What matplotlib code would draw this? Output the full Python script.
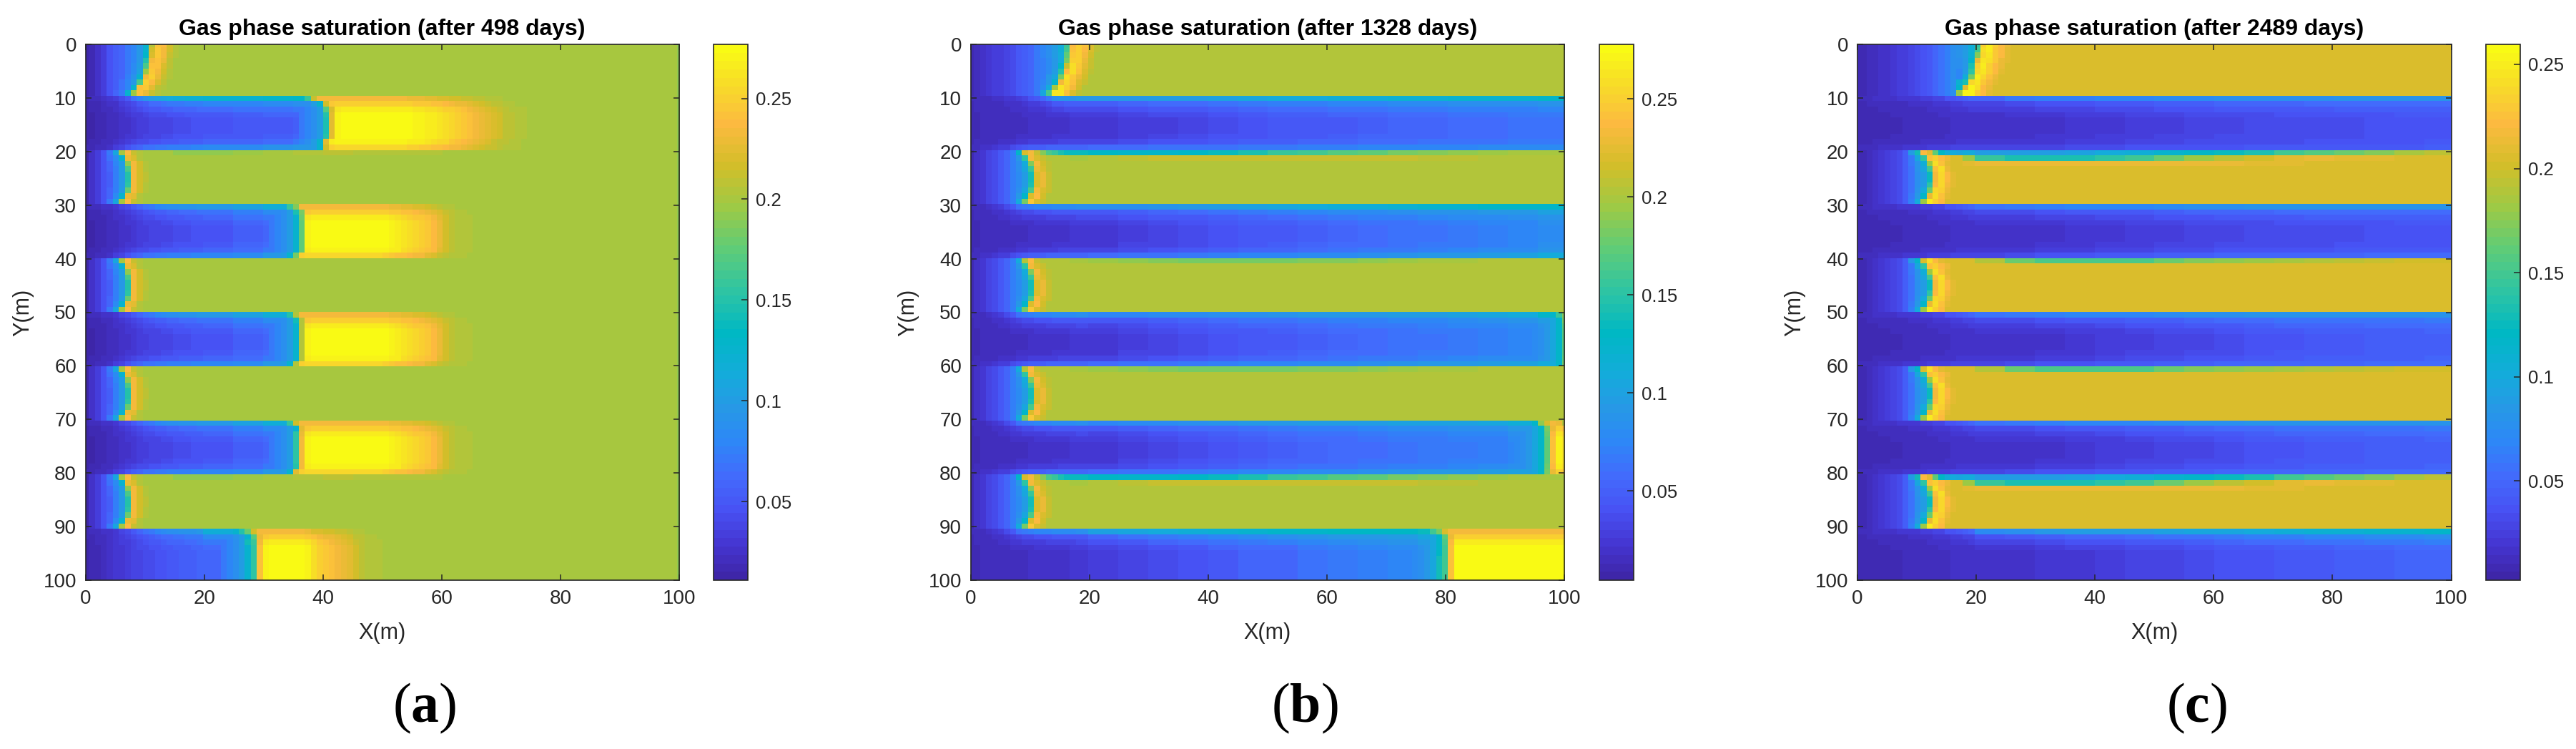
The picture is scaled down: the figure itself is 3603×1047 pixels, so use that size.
import numpy as np
import matplotlib
matplotlib.use("Agg")
import matplotlib.pyplot as plt
from matplotlib.colors import LinearSegmentedColormap

plt.rcParams['font.family'] = ['Liberation Sans', 'DejaVu Sans']
plt.rcParams['mathtext.fontset'] = 'custom'
plt.rcParams['mathtext.rm'] = 'Liberation Serif'
plt.rcParams['mathtext.bf'] = 'Liberation Serif:bold'

titles = ["Gas phase saturation (after 498 days)",
          "Gas phase saturation (after 1328 days)",
          "Gas phase saturation (after 2489 days)"]
panel_names = ["a", "b", "c"]
x_ticks = [0, 20, 40, 60, 80, 100]
y_ticks = [0, 10, 20, 30, 40, 50, 60, 70, 80, 90, 100]
cbar_ticks = [0.05, 0.1, 0.15, 0.2, 0.25]
cbar_labels = ["0.05", "0.1", "0.15", "0.2", "0.25"]
clims = [(0.011, 0.2768), (0.0044, 0.2778), (0.0024, 0.2596)]

# parula
cmap_pos = [0, .06, .127, .19, .254, .32, .38, .46, .54, .62, .70, .78, .857, .93, 1]
cmap_rgb = [(.2422, .1504, .6603), (.27, .21, .82), (.281, .3228, .9579), (.26, .42, .99),
            (.1786, .5289, .9682), (.15, .60, .90), (.08, .67, .86), (0, .72, .77),
            (.18, .77, .64), (.37, .80, .47), (.62, .79, .27), (.83, .745, .16),
            (.99, .73, .25), (.97, .86, .16), (.977, .984, .08)]

# how much the first/last rows of a 10 row band lean towards its edge profile
w_top = [1, .4, .2, .07, 0, 0, 0, 0, 0, 0]
w_bot = [0, 0, 0, 0, 0, 0, 0, .07, .3, 1]
tail_scale = [.45, .68, .88, 1, 1, 1, 1, 1, .95, .7]
tail_scale_last = [.45, .68, .88, 1, 1, 1, 1, 1, 1, 1]

# ---- panel a ----
a_bg = 0.2
a_right_col = 0.19
a_first_ramp = [.012, .018, .026, .035, .045]
a_first_win = [
    [.055, .06, .07, .08, .095, .125, .205, .24, .238, .218, .205],
    [.055, .06, .07, .08, .095, .125, .215, .245, .235, .215, .205],
    [.055, .06, .07, .08, .095, .13, .222, .245, .232, .213, .204],
    [.055, .06, .07, .08, .098, .15, .235, .243, .228, .21, .202],
    [.055, .06, .07, .085, .10, .165, .24, .24, .222, .208, .2],
    [.055, .06, .07, .085, .105, .195, .245, .235, .218, .206, .2],
    [.055, .06, .075, .09, .125, .235, .25, .23, .213, .203, .2],
    [.055, .065, .08, .095, .165, .25, .238, .22, .207, .2, .2],
    [.055, .065, .08, .125, .24, .245, .225, .21, .203, .2, .2],
    [.06, .07, .125, .195, .24, .23, .212, .204, .2, .2, .2]]
a_gas_ramp = [.012, .025, .035, .045]
a_gas_win = [
    [.07, .11, .2, .238, .213, .203, .2],
    [.065, .085, .125, .23, .222, .205, .2],
    [.06, .08, .1, .19, .235, .215, .203],
    [.06, .075, .1, .165, .235, .218, .205],
    [.055, .075, .095, .15, .232, .218, .207],
    [.055, .075, .095, .15, .232, .218, .207],
    [.055, .075, .095, .155, .232, .218, .206],
    [.06, .075, .1, .18, .235, .215, .205],
    [.06, .085, .125, .23, .225, .205, .2],
    [.07, .11, .2, .238, .213, .203, .2]]
a_gas_top = [.2, .2, .2, .192, .192, .195, .202, .205, .207, .206, .204, .203, .2, .2, .2, .2, .2, .2, .2, .2]

# first 20 columns of the blue bands, one value a column
a_left_core = [.012, .014, .016, .018, .02, .022, .025, .027, .03, .032, .034, .036, .037, .039, .04, .042, .043, .044, .045, .046]
a_left_core_9 = [.014, .016, .019, .022, .025, .028, .031, .034, .037, .04, .042, .044, .046, .048, .05, .052, .053, .054, .056, .058]
a_left_top_1 = [.018, .02, .022, .025, .03, .035, .042, .052, .065, .08, .09, .1, .105, .11, .113, .116, .118, .12, .12, .122]
a_left_top_2 = [.018, .02, .022, .024, .027, .031, .036, .042, .05, .058, .066, .072, .078, .083, .086, .088, .09, .092, .094, .095]
a_left_bot = [.016, .018, .02, .023, .027, .032, .04, .048, .055, .06, .065, .068, .07, .072, .074, .075, .076, .077, .078, .079]

a_core_1 = [.012, .018, .028, .036, .047, .05, .052, .055, .058]
a_top_1 = [.02, .04, .1, .12, .125, .125, .13, .135, .14]
a_bot_1 = [.02, .04, .075, .08, .083, .085, .09, .095, .1]
a_core_2 = [.012, .018, .03, .04, .048, .055, .06, .065]
a_top_2 = [.02, .04, .07, .085, .095, .105, .115, .125]
a_bot_2 = [.02, .035, .065, .075, .08, .085, .095, .1]
a_core_3 = [.014, .025, .04, .05, .06, .07]
a_top_3 = [.02, .04, .08, .1, .115, .125]
a_near = [.1, .088, .08, .07]

a_front_1 = [37, 39, 40, 40, 40, 40, 40, 40, 39, 39]
a_fval_1 = [.16, .125, .17, .15, .145, .145, .145, .15, .125, .125]
a_ahead_1 = [.225, .27, .275, .275, .275, .275, .275, .275, .275, .275, .275, .275, .275, .275,
             .272, .27, .268, .265, .262, .258, .255, .25, .245, .24, .235, .23, .225, .22,
             .215, .21, .207, .205, .203, .202]
a_front_2 = [34, 35, 35, 35, 35, 35, 35, 35, 35, 34]
a_fval_3 = [.16, .145, .125, .125, .125, .125, .125, .125, .125, .125]
a_fval_5 = [.15, .14, .125, .125, .125, .125, .125, .125, .125, .125]
a_fval_7 = [.16, .125, .155, .155, .155, .155, .155, .155, .15, .125]
a_tail_2 = [.27, .275, .275, .275, .275, .275, .275, .275, .275, .275, .275, .275, .275, .275, .27, .268,
            .262, .258, .254, .25, .245, .238, .228, .218, .21, .206, .204, .203, .202, .201]
a_ahead_3 = [.175] + a_tail_2
a_ahead_5 = [.205] + a_tail_2
a_ahead_7 = [.235] + a_tail_2
a_front_9 = [26, 27, 27, 27, 27, 27, 27, 27, 27, 27]
a_fval_9 = [.15, .125, .14, .125, .125, .125, .125, .125, .125, .125]
a_ahead_9 = [.155, .24, .27, .275, .275, .275, .275, .275, .275, .27, .26, .25, .245, .24,
             .235, .23, .225, .215, .21, .206, .204, .203, .202, .201]

# ---- panel b ----
b_bg = 0.201
b_first_ramp = [.012, .015, .018, .022, .026, .03, .034, .038, .043, .048, .055, .065]
b_first_win = [
    [.075, .085, .095, .11, .155, .238, .252, .24, .22, .207],
    [.075, .085, .095, .115, .16, .24, .25, .238, .22, .207],
    [.075, .085, .095, .11, .175, .245, .252, .232, .215, .205],
    [.07, .08, .09, .11, .182, .25, .25, .23, .213, .205],
    [.07, .08, .09, .128, .212, .258, .245, .225, .21, .203],
    [.07, .08, .095, .148, .238, .258, .24, .22, .208, .202],
    [.07, .09, .105, .18, .258, .245, .23, .215, .205, .201],
    [.075, .09, .128, .235, .256, .24, .22, .21, .203, .201],
    [.08, .11, .2, .262, .25, .232, .214, .205, .201, .201],
    [.105, .165, .262, .262, .24, .218, .206, .201, .201, .201]]
b_gas_ramp = [.012, .02, .025, .032, .038, .045, .055, .07]
b_gas_top_a = [.125, .222, .232, .21, .185, .165, .155, .145, .135]
b_gas_top_b = [.11, .205, .238, .212, .205, .203, .202, .201, .201]
b_gas_win = [
    [.09, .15, .235, .22, .21, .205, .203, .201, .201],
    [.085, .11, .185, .235, .215, .206, .203, .201, .201],
    [.085, .105, .155, .23, .22, .208, .204, .201, .201],
    [.08, .095, .14, .222, .228, .213, .205, .202, .201],
    [.08, .095, .14, .222, .228, .213, .205, .202, .201],
    [.08, .095, .145, .222, .228, .213, .205, .202, .201],
    [.085, .105, .165, .232, .222, .21, .204, .201, .201],
    [.09, .128, .22, .238, .215, .205, .201, .201, .201],
    [.11, .18, .245, .222, .21, .203, .201, .201, .201]]
b_row0_a = [.2, .2, .2, .135, .13, .128, .128, .13, .135, .145, .155, .162, .168, .174, .18, .186, .19, .195, .199, .2]
b_row1_a = [.2, .2, .2, .2, .205, .208, .21, .21, .212, .213, .213, .213, .212, .21, .21, .208, .206, .204, .203, .201]
b_row0_b = [.2, .2, .2, .2, .195, .19, .185, .182, .182, .183, .183, .185, .188, .19, .195, .198, .2, .201, .201, .201]

b_left_core = [.012, .0125, .013, .0135, .014, .0145, .015, .0155, .016, .017, .0175, .018, .0185, .019, .02, .0205, .021, .022, .0225, .023]
b_left_top_1 = [.014, .015, .016, .017, .018, .02, .022, .025, .029, .034, .04, .045, .052, .065, .085, .087, .088, .089, .09, .09]
b_left_top_3 = [.014, .015, .017, .02, .024, .03, .037, .046, .06, .065, .07, .073, .075, .077, .078, .079, .08, .081, .082, .082]
b_left_bot = [.014, .016, .018, .02, .023, .026, .03, .035, .04, .044, .048, .05, .05, .052, .052, .053, .054, .054, .055, .055]

b_core_1 = [.012, .014, .016, .018, .022, .026, .03, .034, .037, .04, .043, .045, .047, .05, .052, .054, .056, .058, .06, .063]
b_core_3 = [.012, .014, .016, .019, .023, .028, .032, .036, .04, .044, .047, .05, .054, .057, .06, .063, .066, .07, .073, .08]
b_core_7 = [.012, .014, .016, .019, .023, .028, .033, .038, .042, .046, .05, .053, .056, .059, .062, .065, .068, .07, .075, .08]
b_core_9 = [.012, .014, .017, .021, .026, .032, .037, .042, .047, .052, .055, .06, .065, .07, .075, .085]
b_top_1 = [.014, .018, .04, .085, .09, .09, .095, .098, .1, .103, .107, .11, .113, .115, .117, .118, .12, .12, .122, .125]
b_top_3 = [.014, .025, .07, .078, .082, .085, .088, .09, .095, .1, .105, .11, .113, .115, .117, .12, .122, .125, .125, .127]
b_top_5 = [.014, .03, .065, .07, .073, .075, .078, .08, .082, .085, .088, .09, .092, .094, .096, .098, .1, .105, .11, .125]
b_top_7 = [.014, .03, .065, .072, .075, .078, .08, .083, .086, .09, .092, .095, .097, .098, .1, .1, .102, .105, .115, .13]
b_top_9 = [.016, .04, .07, .09, .1, .105, .11, .115, .118, .122, .125, .128, .13, .13, .13, .135]
b_bot_1 = [.014, .03, .05, .053, .056, .058, .06, .062, .064, .066, .068, .07, .072, .074, .075, .076, .077, .078, .079, .08]
b_bot_3 = [.014, .03, .05, .053, .056, .06, .063, .066, .07, .073, .075, .078, .08, .083, .086, .09, .093, .097, .1, .107]
b_near = [.105, .092, .085, .08]

b_front_5 = [98, 98, 98, 98, 98, 98, 98, 98, 98, 98]
b_fval_5 = [.155, .125, .125, .125, .125, .125, .125, .125, .125, .125]
b_ahead_5 = [.17]
b_front_7 = [94, 95, 95, 95, 95, 95, 95, 95, 95, 95]
b_fval_7 = [.125, .125, .125, .125, .125, .125, .125, .125, .125, .125]
b_ahead_7 = [.175, .24, .27, .262]
b_front_9 = [77, 78, 78, 78, 78, 78, 78, 78, 78, 78]
b_fval_9 = [.16, .125, .125, .125, .13, .14, .14, .14, .14, .14]
b_ahead_9 = [.16, .24, .275, .275, .275, .275, .275, .275, .275, .275, .275, .275, .275, .275, .275, .275, .275, .275, .275, .275, .275, .275]

# ---- panel c ----
c_bg = 0.206
c_first_ramp = [.008, .01, .012, .014, .016, .018, .02, .023, .026, .03, .034, .038, .042, .048, .055, .063, .075]
c_first_win = [
    [.08, .09, .105, .14, .235, .25, .235, .222, .213, .207],
    [.08, .09, .105, .15, .24, .248, .23, .222, .21, .206],
    [.08, .09, .11, .175, .238, .245, .23, .22, .21, .206],
    [.075, .085, .118, .215, .245, .24, .228, .215, .208, .206],
    [.075, .085, .135, .232, .248, .235, .222, .212, .206, .206],
    [.07, .09, .14, .238, .245, .232, .22, .21, .206, .206],
    [.07, .105, .17, .25, .238, .225, .213, .207, .206, .206],
    [.11, .135, .238, .245, .228, .217, .21, .206, .206, .206],
    [.118, .21, .255, .24, .222, .212, .206, .206, .206, .206],
    [.18, .255, .255, .235, .222, .21, .206, .206, .206, .206]]
c_gas_ramp = [.008, .01, .013, .016, .02, .024, .028, .034, .045]
c_gas_top_a = [.09, .13, .222, .21, .16, .12, .105, .1, .095]
c_gas_top_b = [.085, .118, .205, .24, .222, .21, .206, .206, .205]
c_gas_win = [
    [.06, .095, .14, .225, .235, .222, .212, .206, .206],
    [.06, .08, .105, .18, .24, .225, .21, .206, .206],
    [.055, .08, .095, .15, .225, .24, .215, .207, .206],
    [.055, .075, .09, .125, .218, .238, .222, .21, .207],
    [.055, .075, .09, .125, .218, .238, .222, .21, .207],
    [.055, .075, .09, .14, .222, .238, .218, .208, .206],
    [.055, .08, .1, .165, .238, .232, .214, .207, .206],
    [.06, .085, .118, .215, .242, .225, .21, .206, .206],
    [.065, .1, .18, .248, .235, .22, .207, .206, .206]]
c_row0_a = [.2, .2, .2, .1, .09, .09, .09, .092, .1, .105, .112, .118, .125, .135, .148, .158, .165, .175, .185, .195]
c_row1_a = [.2, .2, .2, .18, .145, .135, .135, .135, .14, .15, .165, .18, .192, .203, .209, .212, .211, .209, .207, .206]
c_row2_a = [.2, .2, .2, .211, .214, .215, .215, .215, .215, .215, .214, .213, .212, .21, .208, .207, .206, .206, .206, .206]
c_row0_b = [.2, .2, .2, .205, .19, .165, .155, .152, .152, .155, .165, .172, .178, .183, .187, .19, .194, .197, .2, .203]

c_left_core = [.008, .0083, .0086, .009, .0093, .0096, .01, .0103, .0106, .011, .0115, .012, .0125, .013, .0135, .014, .0145, .015, .0155, .016]
c_left_top = [.012, .013, .014, .015, .016, .017, .018, .019, .02, .021, .022, .024, .026, .028, .03, .035, .038, .042, .045, .05]
c_left_bot = [.012, .012, .013, .014, .015, .016, .017, .018, .019, .02, .021, .022, .023, .024, .025, .026, .027, .028, .029, .03]

c_core_1 = [.008, .009, .01, .012, .016, .017, .018, .02, .022, .024, .026, .028, .03, .031, .032, .033, .034, .035, .036, .037]
c_core_5 = [.008, .009, .01, .012, .016, .017, .018, .02, .023, .026, .028, .03, .033, .036, .038, .04, .042, .043, .044, .045]
c_core_9 = [.008, .009, .011, .013, .016, .018, .02, .022, .024, .027, .03, .034, .036, .038, .04, .042, .044, .046, .048, .05]
c_top_1 = [.012, .015, .02, .035, .05, .06, .063, .066, .068, .07, .072, .074, .075, .076, .077, .078, .079, .08, .08, .08]
c_top_3 = [.012, .015, .02, .04, .055, .06, .065, .068, .07, .07, .072, .075, .078, .08, .082, .082, .082, .082, .08, .08]
c_top_9 = [.012, .015, .04, .065, .072, .078, .085, .087, .088, .09, .092, .095, .098, .102, .105, .107, .109, .111, .113, .115]
c_bot_1 = [.012, .014, .016, .018, .03, .03, .03, .032, .034, .035, .036, .037, .038, .039, .04, .04, .041, .042, .042, .043]
c_bot_3 = [.012, .014, .018, .024, .03, .034, .036, .038, .04, .042, .044, .046, .047, .048, .049, .05, .05, .051, .052, .053]


def block(values, c, left=None):
    # profiles are read every 5 columns, the first 20 columns one by one
    if left is not None and c < len(left):
        return left[c]
    return values[min(c // 5, len(values) - 1)]


def gas_band(field, row, ramp, win, bg, top=None, row0=None, row1=None, row2=None):
    if top is not None:
        win = [top] + win
    start = len(ramp)
    for r in range(10):
        line = list(ramp) + list(win[r])
        for c in range(100):
            if c < len(line):
                field[row + r, c] = line[c]
            else:
                field[row + r, c] = bg
    edge_rows = [row0, row1, row2]
    for r in range(3):
        if edge_rows[r] is not None:
            for c in range(start + len(win[r]), 100):
                field[row + r, c] = block(edge_rows[r], c)


def blue_band(field, row, core, top, bot, bg, left, near=None, front=None, fval=None, ahead=None, scale=tail_scale):
    left_core, left_top, left_bot = left
    for r in range(10):
        for c in range(100):
            base = block(core, c, left_core)
            low = base + w_top[r] * (block(top, c, left_top) - base)
            if bot is not None:
                low = low + w_bot[r] * (block(bot, c, left_bot) - base)
            if front is None or c < front[r]:
                field[row + r, c] = low
                if front is not None and front[r] - c <= len(near):
                    field[row + r, c] = max(low, near[front[r] - c - 1])
            elif c == front[r]:
                field[row + r, c] = fval[r]
            else:
                k = c - front[r] - 1
                tail = ahead[k] if k < len(ahead) else bg
                field[row + r, c] = bg + (tail - bg) * scale[r]


# panel a
a_l1 = (a_left_core, a_left_top_1, a_left_bot)
a_l2 = (a_left_core, a_left_top_2, a_left_bot)
field_a = np.full((100, 100), a_bg)
gas_band(field_a, 0, a_first_ramp, a_first_win, a_bg)
blue_band(field_a, 10, a_core_1, a_top_1, a_bot_1, a_bg, a_l1, a_near, a_front_1, a_fval_1, a_ahead_1)
gas_band(field_a, 20, a_gas_ramp, a_gas_win, a_bg, row0=a_gas_top)
blue_band(field_a, 30, a_core_2, a_top_2, a_bot_2, a_bg, a_l2, a_near, a_front_2, a_fval_3, a_ahead_3)
gas_band(field_a, 40, a_gas_ramp, a_gas_win, a_bg)
blue_band(field_a, 50, a_core_2, a_top_2, a_bot_2, a_bg, a_l2, a_near, a_front_2, a_fval_5, a_ahead_5)
gas_band(field_a, 60, a_gas_ramp, a_gas_win, a_bg)
blue_band(field_a, 70, a_core_2, a_top_2, a_bot_2, a_bg, a_l2, a_near, a_front_2, a_fval_7, a_ahead_7)
gas_band(field_a, 80, a_gas_ramp, a_gas_win, a_bg, row0=a_gas_top)
blue_band(field_a, 90, a_core_3, a_top_3, None, a_bg, (a_left_core_9, a_left_top_2, None), a_near, a_front_9, a_fval_9, a_ahead_9, tail_scale_last)
field_a[:, 99] = a_right_col

# panel b
b_l1 = (b_left_core, b_left_top_1, b_left_bot)
b_l3 = (b_left_core, b_left_top_3, b_left_bot)
field_b = np.full((100, 100), b_bg)
gas_band(field_b, 0, b_first_ramp, b_first_win, b_bg)
blue_band(field_b, 10, b_core_1, b_top_1, b_bot_1, b_bg, b_l1)
gas_band(field_b, 20, b_gas_ramp, b_gas_win, b_bg, b_gas_top_a, b_row0_a, b_row1_a)
blue_band(field_b, 30, b_core_3, b_top_3, b_bot_3, b_bg, b_l3)
gas_band(field_b, 40, b_gas_ramp, b_gas_win, b_bg, b_gas_top_b, b_row0_b)
blue_band(field_b, 50, b_core_3, b_top_5, b_bot_3, b_bg, b_l3, b_near, b_front_5, b_fval_5, b_ahead_5)
gas_band(field_b, 60, b_gas_ramp, b_gas_win, b_bg, b_gas_top_b, b_row0_b)
blue_band(field_b, 70, b_core_7, b_top_7, b_bot_3, b_bg, b_l3, b_near, b_front_7, b_fval_7, b_ahead_7)
gas_band(field_b, 80, b_gas_ramp, b_gas_win, b_bg, b_gas_top_a, b_row0_a, b_row1_a)
blue_band(field_b, 90, b_core_9, b_top_9, None, b_bg, (b_left_core, b_left_top_3, None), b_near, b_front_9, b_fval_9, b_ahead_9, tail_scale_last)

# panel c
c_l = (c_left_core, c_left_top, c_left_bot)
field_c = np.full((100, 100), c_bg)
gas_band(field_c, 0, c_first_ramp, c_first_win, c_bg)
blue_band(field_c, 10, c_core_1, c_top_1, c_bot_1, c_bg, c_l)
gas_band(field_c, 20, c_gas_ramp, c_gas_win, c_bg, c_gas_top_a, c_row0_a, c_row1_a, c_row2_a)
blue_band(field_c, 30, c_core_1, c_top_3, c_bot_3, c_bg, c_l)
gas_band(field_c, 40, c_gas_ramp, c_gas_win, c_bg, c_gas_top_b, c_row0_b)
blue_band(field_c, 50, c_core_5, c_top_3, c_bot_3, c_bg, c_l)
gas_band(field_c, 60, c_gas_ramp, c_gas_win, c_bg, c_gas_top_b, c_row0_b)
blue_band(field_c, 70, c_core_5, c_top_3, c_bot_3, c_bg, c_l)
gas_band(field_c, 80, c_gas_ramp, c_gas_win, c_bg, c_gas_top_a, c_row0_a, c_row1_a, c_row2_a)
blue_band(field_c, 90, c_core_9, c_top_9, None, c_bg, (c_left_core, c_left_top, None))

fields = [field_a, field_b, field_c]

cmap = LinearSegmentedColormap.from_list("parula_like", list(zip(cmap_pos, cmap_rgb)), N=64)

W, H = 3603, 1047
fig = plt.figure(figsize=(W / 100, H / 100), dpi=100)
dark = "#262626"
ax_left = [119.5, 1357.5, 2598]
cb_left = [998, 2237, 3477]
label_x = [594, 1825, 3072]
ax_top, ax_bot = 62, 811
half = 50 / 99  # imagesc keeps half a cell outside the limits

for i in range(3):
    ax = fig.add_axes([ax_left[i] / W, 1 - ax_bot / H, 830.5 / W, (ax_bot - ax_top) / H])
    im = ax.imshow(fields[i], cmap=cmap, vmin=clims[i][0], vmax=clims[i][1], aspect="auto",
                   interpolation="nearest", extent=[-half, 100 + half, 100 + half, -half])
    ax.set_xlim(0, 100)
    ax.set_ylim(100, 0)
    ax.set_xticks(x_ticks)
    ax.set_yticks(y_ticks)
    ax.tick_params(direction="in", top=True, right=True, length=6, width=1.1, color=dark,
                   labelcolor=dark, labelsize=20)
    ax.tick_params(axis="x", pad=9)
    ax.tick_params(axis="y", pad=9)
    for s in ax.spines.values():
        s.set_linewidth(1.2)
        s.set_color(dark)
    ax.set_title(titles[i], fontsize=23, fontweight="bold", color="black", pad=9)
    ax.set_xlabel("X(m)", fontsize=22, color=dark, va="center")
    ax.xaxis.set_label_coords(0.5, -0.099)
    ax.set_ylabel("Y(m)", fontsize=22, color=dark, va="center")
    ax.yaxis.set_label_coords(-0.105, 0.5)

    cax = fig.add_axes([cb_left[i] / W, 1 - ax_bot / H, 47.5 / W, (ax_bot - ax_top) / H])
    cb = fig.colorbar(im, cax=cax)
    cb.set_ticks(cbar_ticks)
    cb.set_ticklabels(cbar_labels)
    cb.ax.tick_params(direction="in", length=6.2, width=1.1, color=dark, labelcolor=dark,
                      labelsize=18.5, pad=8)
    cb.outline.set_linewidth(1.2)
    cb.outline.set_edgecolor(dark)

    fig.text(label_x[i] / W, 1 - 990 / H, "($\\mathbf{" + panel_names[i] + "}$)", fontsize=56,
             family="Liberation Serif", ha="center", va="center", color="black")

fig.savefig("out.png", dpi=100)
